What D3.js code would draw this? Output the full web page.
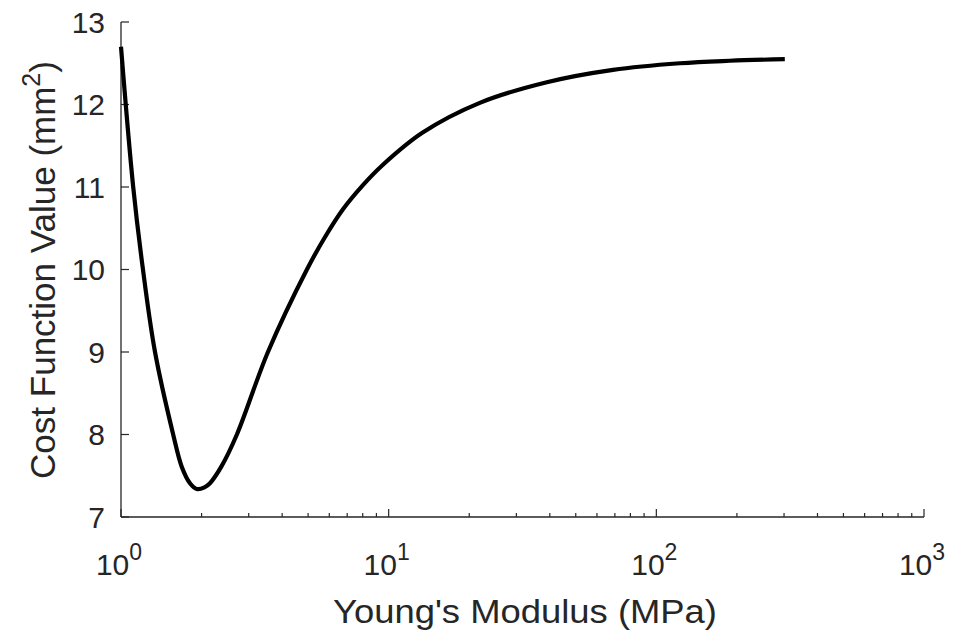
<!DOCTYPE html>
<html>
<head>
<meta charset="utf-8">
<script src="https://cdn.jsdelivr.net/npm/d3@7"></script>
<style>
  html, body { margin: 0; padding: 0; background: #fff; }
  svg { display: block; }
  text { font-family: Arial, "Liberation Sans", Helvetica, sans-serif; fill: #262626; }
</style>
</head>
<body>
<svg id="chart" width="956" height="634"></svg>
<script>
// Young's modulus (MPa)
const modulus = [1.00, 1.11, 1.208, 1.34, 1.564, 1.686, 1.81, 1.92, 2.05, 2.15, 2.37, 2.71, 3.54, 4.95, 5.8, 6.75, 8.0, 9.52, 13.4, 21.9, 39.0, 68.9, 122.5, 188, 302];
// Cost function value (mm^2)
const cost = [12.70, 11.01, 10.00, 9.00, 8.01, 7.61, 7.41, 7.34, 7.36, 7.41, 7.61, 8.00, 9.00, 10.00, 10.40, 10.73, 11.02, 11.27, 11.66, 12.02, 12.27, 12.42, 12.50, 12.53, 12.55];
const xTickExps = [0, 1, 2, 3];
const yTicks = [7, 8, 9, 10, 11, 12, 13];

const svg = d3.select("#chart");
const axisColor = "#262626";

const x = d3.scaleLog().domain([1, 1000]).range([121, 924]);
const y = d3.scaleLinear().domain([7, 13]).range([517, 22]);

// axes lines
svg.append("line").attr("x1", 121).attr("x2", 924).attr("y1", 517).attr("y2", 517)
  .attr("stroke", axisColor).attr("stroke-width", 1.3);
svg.append("line").attr("x1", 121).attr("x2", 121).attr("y1", 22).attr("y2", 517)
  .attr("stroke", axisColor).attr("stroke-width", 1.3);

// x ticks (major + minor, inward)
const minor = [];
for (let e = 0; e < 3; e++) for (let m = 2; m <= 9; m++) minor.push(m * Math.pow(10, e));
svg.selectAll(".xminor").data(minor).enter().append("line")
  .attr("x1", d => x(d)).attr("x2", d => x(d)).attr("y1", 517).attr("y2", 513)
  .attr("stroke", axisColor).attr("stroke-width", 1.2);
svg.selectAll(".xmajor").data(xTickExps).enter().append("line")
  .attr("x1", d => x(Math.pow(10, d))).attr("x2", d => x(Math.pow(10, d)))
  .attr("y1", 517).attr("y2", 509)
  .attr("stroke", axisColor).attr("stroke-width", 1.2);

// x tick labels with superscripts
const xl = svg.selectAll(".xlab").data(xTickExps).enter().append("text")
  .attr("x", d => x(Math.pow(10, d)) - 2).attr("y", 575)
  .attr("text-anchor", "middle").style("font-size", "30px");
xl.append("tspan").text("10");
xl.append("tspan").attr("dy", -15).style("font-size", "23px").text(d => d);

// y ticks
svg.selectAll(".ytick").data(yTicks).enter().append("line")
  .attr("x1", 121).attr("x2", 129).attr("y1", d => y(d)).attr("y2", d => y(d))
  .attr("stroke", axisColor).attr("stroke-width", 1.2);
svg.selectAll(".ylab").data(yTicks).enter().append("text")
  .attr("x", 105).attr("y", d => y(d)).attr("dy", "0.36em")
  .attr("text-anchor", "end").style("font-size", "30px").text(d => d);

// axis labels
svg.append("text").attr("x", 525).attr("y", 623).attr("text-anchor", "middle")
  .style("font-size", "34px").attr("textLength", 384).attr("lengthAdjust", "spacingAndGlyphs")
  .text("Young's Modulus (MPa)");

const yl = svg.append("text").attr("transform", "translate(55,270) rotate(-90)")
  .attr("text-anchor", "middle").style("font-size", "35px");
yl.append("tspan").text("Cost Function Value (mm");
yl.append("tspan").attr("dy", -15).style("font-size", "25px").text("2");
yl.append("tspan").attr("dy", 15).text(")");

// curve
const pts = modulus.map((m, i) => [m, cost[i]]);
const line = d3.line().x(d => x(d[0])).y(d => y(d[1])).curve(d3.curveCatmullRom.alpha(0.5));
svg.append("path").datum(pts).attr("d", line)
  .attr("fill", "none").attr("stroke", "#000").attr("stroke-width", 4.2)
  .attr("stroke-linejoin", "round");
</script>
</body>
</html>
